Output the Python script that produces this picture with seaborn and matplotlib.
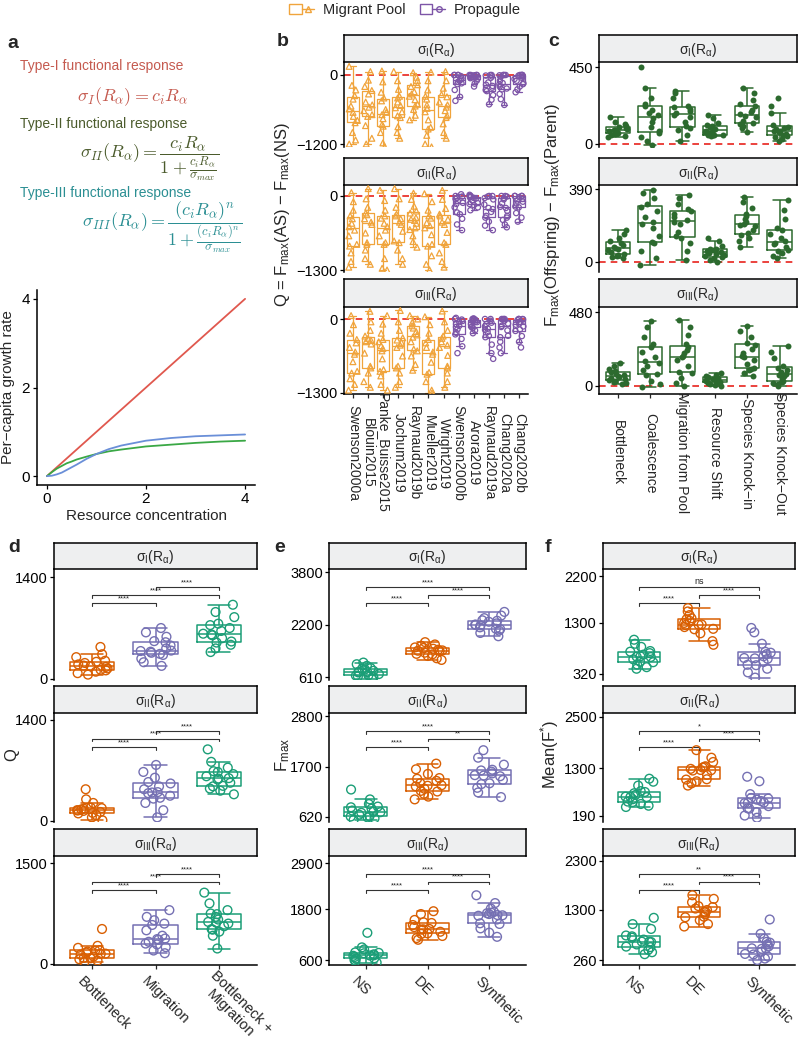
import numpy as np
import pandas as pd
import matplotlib
matplotlib.use("Agg")
import matplotlib.pyplot as plt
import matplotlib.transforms as mtransforms
from matplotlib.patches import Rectangle
from matplotlib.lines import Line2D
from matplotlib.legend_handler import HandlerTuple
import seaborn as sns

sns.set_style("white")
plt.rcParams["font.family"] = ["Liberation Sans", "DejaVu Sans"]
plt.rcParams["mathtext.fontset"] = "custom"
plt.rcParams["mathtext.rm"] = "Liberation Sans"
plt.rcParams["mathtext.it"] = "Liberation Sans:italic"
plt.rcParams["mathtext.bf"] = "Liberation Sans:bold"
np.random.seed(7)  # only for the jitter of the points

# -----------------------------------
# data
# -----------------------------------
# a: functional responses
resource = [0, 0.1, 0.2, 0.3, 0.4, 0.5, 0.6, 0.8, 1, 1.25, 1.5, 2, 2.5, 3, 3.5, 4]
growth_type1 = [0, 0.1, 0.2, 0.3, 0.4, 0.5, 0.6, 0.8, 1, 1.25, 1.5, 2, 2.5, 3, 3.5, 4]
growth_type2 = [0, 0.09, 0.17, 0.23, 0.29, 0.33, 0.375, 0.44, 0.5, 0.56, 0.6, 0.67, 0.71, 0.75, 0.78, 0.8]
growth_type3 = [0, 0.01, 0.04, 0.08, 0.14, 0.2, 0.26, 0.39, 0.5, 0.61, 0.69, 0.8, 0.86, 0.9, 0.92, 0.94]

# b: Q per study
studies = ["Swenson2000a", "Blouin2015", "Panke_Buisse2015", "Jochum2019",
           "Raynaud2019b", "Mueller2019", "Wright2019", "Swenson2000b",
           "Arora2019", "Raynaud2019a", "Chang2020a", "Chang2020b"]
study_pool = ["Migrant Pool"] * 7 + ["Propagule"] * 5

b_q_sigma1 = [
    [-1200, -1130, -1000, -830, -790, -720, -650, -590, -540, -420, -360, -260, -180, 150],
    [-1200, -1100, -880, -720, -690, -620, -560, -520, -470, -330, -270, -200, -90, 60],
    [-1250, -1180, -1000, -890, -860, -760, -690, -650, -600, -450, -400, -300, -120, 70],
    [-1100, -1000, -900, -740, -710, -640, -570, -530, -470, -400, -370, -250, -100, 60],
    [-780, -700, -600, -540, -510, -430, -370, -330, -290, -200, -170, -100, -40, 40],
    [-1250, -1200, -1050, -940, -910, -780, -640, -580, -520, -420, -370, -260, -100, 50],
    [-1100, -1000, -850, -740, -710, -620, -560, -520, -470, -380, -340, -230, -100, 60],
    [-450, -380, -260, -160, -145, -120, -100, -80, -60, -20, 0, 0, 0, 0],
    [-200, -150, -100, -65, -55, -40, -25, -15, -10, -5, 0, 0, 0, 0],
    [-510, -430, -350, -280, -260, -220, -190, -170, -130, -50, -25, -10, 0, 0],
    [-520, -420, -330, -250, -235, -200, -160, -140, -100, -30, -5, 0, 0, 0],
    [-300, -250, -200, -160, -145, -100, -70, -50, -30, -10, 0, 0, 0, 0],
]
b_q_sigma2 = [
    [-1250, -1150, -1000, -880, -850, -700, -600, -540, -480, -400, -350, -250, -100, 60],
    [-1200, -1100, -950, -850, -820, -650, -500, -460, -400, -330, -300, -200, -50, 130],
    [-1300, -1270, -1100, -850, -820, -700, -600, -540, -480, -390, -350, -250, -80, 100],
    [-1200, -1100, -950, -820, -790, -620, -500, -460, -400, -350, -320, -200, -50, 130],
    [-900, -800, -700, -590, -560, -480, -430, -410, -380, -300, -265, -180, -60, 50],
    [-1300, -1200, -1050, -880, -850, -680, -560, -520, -470, -390, -350, -250, -100, 40],
    [-1250, -1150, -1000, -850, -820, -640, -500, -460, -410, -350, -320, -220, -60, 100],
    [-600, -500, -400, -320, -290, -200, -140, -120, -90, -50, -35, -10, 0, 30],
    [-250, -200, -160, -140, -125, -80, -45, -35, -25, -15, -8, 0, 0, 20],
    [-600, -520, -450, -380, -350, -280, -230, -210, -150, -60, -35, -10, 0, 0],
    [-550, -500, -420, -380, -350, -260, -210, -190, -130, -60, -35, -10, 0, 0],
    [-450, -380, -300, -200, -185, -130, -100, -80, -50, -20, 0, 0, 0, 0],
]
b_q_sigma3 = [
    [-1250, -1150, -1050, -950, -920, -750, -620, -580, -500, -420, -360, -250, -100, 60],
    [-1200, -1100, -950, -860, -830, -600, -440, -400, -370, -340, -300, -200, -50, 135],
    [-1250, -1150, -1000, -920, -890, -700, -560, -520, -470, -400, -360, -250, -90, 60],
    [-1200, -1100, -950, -860, -830, -650, -500, -460, -410, -370, -330, -200, -50, 150],
    [-900, -800, -650, -560, -530, -400, -320, -280, -220, -160, -120, -60, 0, 60],
    [-1300, -1250, -1100, -970, -940, -760, -620, -580, -500, -420, -360, -250, -100, 40],
    [-1200, -1100, -950, -860, -830, -640, -500, -460, -400, -340, -300, -200, -50, 140],
    [-600, -480, -350, -270, -245, -180, -140, -120, -90, -55, -35, -10, 0, 20],
    [-250, -200, -160, -140, -125, -90, -55, -45, -30, -15, -8, 0, 0, 10],
    [-700, -600, -450, -320, -295, -230, -190, -170, -130, -90, -65, -30, 0, 0],
    [-600, -500, -400, -320, -295, -200, -140, -120, -80, -30, -8, 0, 0, 0],
    [-500, -400, -300, -210, -185, -130, -100, -80, -50, -20, -8, 0, 0, 0],
]

# c: Fmax(Offspring) - Fmax(Parent)
events = ["Bottleneck", "Coalescence", "Migration from Pool", "Resource Shift",
          "Species Knock\u2212in", "Species Knock\u2212Out"]
c_diff_sigma1 = [
    [40, 48, 55, 60, 63, 68, 75, 80, 82, 86, 92, 98, 104, 115, 130, 155],
    [-5, 20, 40, 65, 75, 100, 130, 150, 168, 180, 200, 220, 232, 270, 330, 450],
    [15, 50, 80, 95, 103, 130, 160, 172, 184, 195, 205, 214, 225, 270, 300, 310],
    [45, 50, 52, 52, 53, 62, 72, 78, 84, 90, 98, 104, 108, 120, 150, 170],
    [70, 95, 105, 115, 122, 135, 155, 165, 173, 185, 200, 222, 232, 260, 300, 330],
    [20, 30, 40, 48, 54, 60, 68, 74, 78, 85, 95, 102, 110, 180, 220, 270],
]
c_diff_sigma2 = [
    [20, 25, 30, 36, 40, 50, 62, 70, 74, 80, 90, 102, 110, 130, 150, 170],
    [-20, 20, 60, 100, 108, 140, 180, 200, 212, 240, 270, 295, 310, 340, 370, 384],
    [10, 60, 100, 128, 136, 160, 200, 212, 222, 240, 255, 270, 285, 310, 340, 360],
    [0, 10, 18, 25, 29, 35, 44, 48, 52, 56, 62, 66, 70, 85, 110, 130],
    [80, 110, 130, 145, 152, 170, 190, 198, 202, 215, 230, 248, 255, 290, 320, 350],
    [20, 30, 45, 58, 62, 80, 95, 102, 110, 130, 150, 170, 180, 230, 280, 330],
]
c_diff_sigma3 = [
    [10, 15, 22, 30, 35, 42, 52, 58, 64, 70, 78, 86, 94, 110, 130, 150],
    [-10, 10, 30, 70, 76, 100, 130, 150, 160, 190, 220, 250, 270, 320, 380, 420],
    [0, 20, 50, 82, 90, 130, 170, 185, 193, 210, 230, 252, 275, 330, 380, 430],
    [0, 5, 12, 18, 21, 25, 30, 33, 35, 40, 46, 52, 58, 65, 72, 80],
    [60, 80, 100, 110, 117, 140, 170, 185, 193, 210, 240, 265, 280, 320, 360, 390],
    [0, 10, 18, 24, 28, 45, 65, 72, 76, 90, 105, 118, 130, 180, 220, 260],
]

# d: Q per treatment
treatments = ["Bottleneck", "Migration", "Bottleneck +\nMigration"]
d_q_sigma1 = [
    [60, 80, 100, 118, 126, 145, 165, 176, 184, 200, 220, 236, 250, 300, 340, 440],
    [180, 230, 280, 330, 345, 360, 375, 384, 390, 420, 460, 505, 520, 580, 640, 700],
    [370, 420, 470, 500, 515, 560, 600, 612, 622, 660, 700, 740, 760, 850, 920, 1020],
]
d_q_sigma2 = [
    [10, 50, 80, 105, 113, 125, 140, 146, 150, 160, 170, 178, 185, 250, 300, 440],
    [50, 150, 250, 310, 322, 350, 385, 395, 400, 440, 480, 520, 540, 600, 680, 777],
    [370, 420, 450, 480, 487, 530, 575, 588, 594, 620, 650, 680, 690, 740, 820, 993],
]
d_q_sigma3 = [
    [30, 50, 70, 85, 90, 110, 140, 150, 154, 170, 185, 200, 206, 240, 270, 520],
    [160, 200, 250, 290, 303, 330, 360, 370, 378, 420, 500, 580, 600, 650, 700, 800],
    [230, 420, 480, 510, 518, 560, 600, 615, 625, 660, 700, 740, 750, 800, 900, 1060],
]

# e: Fmax, f: Mean(F*) per community type
communities = ["NS", "DE", "Synthetic"]
e_fmax_sigma1 = [
    [560, 600, 630, 655, 664, 700, 750, 762, 772, 800, 840, 865, 880, 950, 1000, 1050],
    [1130, 1180, 1250, 1300, 1315, 1350, 1400, 1410, 1420, 1440, 1470, 1495, 1510, 1560, 1600, 1670],
    [1850, 1950, 2020, 2065, 2077, 2120, 2180, 2195, 2205, 2240, 2290, 2320, 2335, 2400, 2480, 2590],
]
e_fmax_sigma2 = [
    [560, 590, 610, 630, 636, 670, 710, 724, 732, 760, 800, 830, 845, 900, 1000, 1213],
    [1000, 1060, 1120, 1170, 1183, 1230, 1280, 1295, 1305, 1350, 1400, 1445, 1460, 1550, 1650, 1772],
    [1050, 1150, 1250, 1330, 1347, 1420, 1500, 1515, 1523, 1560, 1600, 1625, 1640, 1750, 1900, 2062],
]
e_fmax_sigma3 = [
    [540, 570, 600, 632, 641, 670, 700, 707, 713, 735, 760, 770, 780, 850, 900, 1245],
    [1080, 1120, 1170, 1220, 1233, 1270, 1320, 1328, 1336, 1380, 1430, 1478, 1495, 1550, 1690, 1757],
    [1150, 1250, 1350, 1455, 1470, 1560, 1650, 1660, 1666, 1690, 1710, 1722, 1740, 1820, 1950, 2135],
]
f_mean_sigma1 = [
    [420, 450, 500, 545, 555, 600, 645, 652, 658, 690, 720, 748, 760, 840, 900, 977],
    [880, 950, 1100, 1178, 1186, 1220, 1260, 1265, 1271, 1300, 1340, 1372, 1390, 1450, 1520, 1584],
    [250, 350, 420, 488, 496, 550, 610, 620, 626, 660, 700, 728, 745, 900, 1119, 1203],
]
f_mean_sigma2 = [
    [400, 430, 470, 515, 526, 580, 630, 636, 642, 680, 720, 750, 770, 900, 990, 1060],
    [900, 950, 1000, 1040, 1047, 1150, 1250, 1258, 1264, 1290, 1320, 1335, 1350, 1450, 1550, 1726],
    [150, 200, 280, 360, 370, 420, 490, 497, 503, 540, 570, 598, 610, 700, 1000, 1106],
]
f_mean_sigma3 = [
    [380, 420, 470, 525, 536, 580, 630, 634, 638, 680, 720, 748, 765, 900, 1000, 1129],
    [950, 1000, 1080, 1140, 1152, 1200, 1245, 1250, 1254, 1290, 1320, 1350, 1370, 1450, 1520, 1594],
    [260, 290, 330, 375, 385, 430, 490, 497, 501, 540, 580, 618, 635, 700, 800, 1095],
]

# significance labels (brackets: d = 1-2, 1-3, 2-3 ; e/f = 1-2, 2-3, 1-3)
d_signif = [["****", "****", "****"]] * 3
e_signif = [["****", "****", "****"], ["****", "**", "****"], ["****", "****", "****"]]
f_signif = [["****", "****", "ns"], ["****", "****", "*"], ["****", "****", "**"]]

# axis ticks / limits per facet
b_yticks = [[-1200, 0], [-1300, 0], [-1300, 0]]
b_ylims = [(-1252, 226), (-1335, 193), (-1318, 211)]
c_yticks = [[0, 450], [0, 390], [0, 480]]
c_ylims = [(-18, 480), (-55, 412), (-55, 514)]
d_yticks = [[0, 1400], [0, 1400], [0, 1500]]
d_ylims = [(-14, 1511), (-14, 1497), (-15, 1604)]
e_yticks = [[610, 2200, 3800], [620, 1700, 2800], [600, 1800, 2900]]
e_ylims = [(520, 3894), (512, 2865), (482, 3066)]
f_yticks = [[320, 1300, 2200], [190, 1300, 2500], [260, 1300, 2300]]
f_ylims = [(204, 2335), (50, 2593), (157, 2403)]

sigma_titles = [r"$\mathregular{\sigma_{I}(R_{\alpha})}$",
                r"$\mathregular{\sigma_{II}(R_{\alpha})}$",
                r"$\mathregular{\sigma_{III}(R_{\alpha})}$"]

pool_colors = {"Migrant Pool": "#f0a43c", "Propagule": "#7d55a7"}
c_green = "#2c6a2e"
d_colors = {"Bottleneck": "#d95f02", "Migration": "#7570b3", "Bottleneck +\nMigration": "#1b9e77"}
ef_colors = {"NS": "#1b9e77", "DE": "#d95f02", "Synthetic": "#7570b3"}

# -----------------------------------
# helpers
# -----------------------------------
W, H = 800, 1047
fig = plt.figure(figsize=(W / 100, H / 100), dpi=100)


def rect(x0, y0, x1, y1):
    return [x0 / W, 1 - y1 / H, (x1 - x0) / W, (y1 - y0) / H]


def long_frame(cats, lists):
    rows = [(c, v) for c, vals in zip(cats, lists) for v in vals]
    return pd.DataFrame(rows, columns=["group", "value"])


def add_facet(x0, x1, ys0, ys1, yp1, title, bottom):
    st = fig.add_axes(rect(x0, ys0, x1, ys1))
    st.set_facecolor("#eeeff0")
    st.set_xticks([])
    st.set_yticks([])
    for s in st.spines.values():
        s.set_visible(True)
        s.set_color("black")
        s.set_linewidth(1.1)
    st.text(0.5, 0.45, title, ha="center", va="center", fontsize=10)
    ax = fig.add_axes(rect(x0, ys1, x1, yp1))
    ax.set_facecolor("none")
    ax.spines["top"].set_visible(False)
    ax.spines["right"].set_visible(False)
    ax.spines["left"].set_color("black")
    ax.spines["left"].set_linewidth(1.1)
    ax.spines["bottom"].set_visible(bottom)
    ax.spines["bottom"].set_color("black")
    ax.spines["bottom"].set_linewidth(1.1)
    return ax


def hollow(ax, n0, lw):
    for coll in ax.collections[n0:]:
        fc = coll.get_facecolors()
        coll.set_edgecolors(fc)
        coll.set_facecolors("none")
        coll.set_linewidth(lw)


def finish_axis(ax, xlim, ylim, yticks, bottom):
    ax.set_xlim(*xlim)
    ax.set_ylim(*ylim)
    ax.set_yticks(yticks)
    ax.set_xlabel("")
    ax.set_ylabel("")
    ax.tick_params(axis="y", length=3, width=0.9, labelsize=10.5, pad=1.5,
                   left=True, colors="black")
    ax.tick_params(axis="x", length=3 if bottom else 0, width=0.9, bottom=bottom,
                   labelbottom=False)


def add_brackets(ax, pairs, labels):
    trans = ax.get_xaxis_transform()
    levels = [0.69, 0.765, 0.835]
    for (i, j), lab, lev in zip(pairs, labels, levels):
        ax.plot([i, i, j, j], [lev - 0.025, lev, lev, lev - 0.025], transform=trans,
                color="#333333", lw=0.8, clip_on=False)
        ax.text((i + j) / 2, lev + 0.008, lab, transform=trans, ha="center",
                va="bottom", fontsize=6.5 if lab == "ns" else 5.5, color="#222222")


def shifted(ax, dx_px, dy_px):
    return ax.get_xaxis_transform() + mtransforms.ScaledTranslation(
        dx_px / 100, dy_px / 100, fig.dpi_scale_trans)


# -----------------------------------
# a. functional responses
# -----------------------------------
fig.text(7 / W, 1 - 43 / H, "a", fontsize=14, fontweight="bold", va="center")
fig.text(20 / W, 1 - 66 / H, "Type-I functional response", color="#c55a4f", fontsize=10, va="center")
fig.text(132 / W, 1 - 97 / H, r"$\sigma_{I}(R_{\alpha}) = c_{i}R_{\alpha}$",
         color="#c55a4f", fontsize=13, ha="center", va="center", math_fontfamily="cm")
fig.text(20 / W, 1 - 124 / H, "Type-II functional response", color="#4b5b2c", fontsize=10, va="center")
fig.text(150 / W, 1 - 159 / H,
         r"$\sigma_{II}(R_{\alpha}) = \dfrac{c_{i}R_{\alpha}}{1+\frac{c_{i}R_{\alpha}}{\sigma_{max}}}$",
         color="#4b5b2c", fontsize=13, ha="center", va="center", math_fontfamily="cm")
fig.text(20 / W, 1 - 193 / H, "Type-III functional response", color="#2b8f93", fontsize=10, va="center")
fig.text(162 / W, 1 - 227 / H,
         r"$\sigma_{III}(R_{\alpha}) = \dfrac{(c_{i}R_{\alpha})^{n}}{1+\frac{(c_{i}R_{\alpha})^{n}}{\sigma_{max}}}$",
         color="#2b8f93", fontsize=13, ha="center", va="center", math_fontfamily="cm")

ax_a = fig.add_axes(rect(37, 290, 255, 485))
sns.lineplot(x=resource, y=growth_type1, color="#e0584e", lw=1.3, ax=ax_a)
sns.lineplot(x=resource, y=growth_type2, color="#3aa845", lw=1.3, ax=ax_a)
sns.lineplot(x=resource, y=growth_type3, color="#6a8fd8", lw=1.3, ax=ax_a)
ax_a.set_xlim(-0.2, 4.2)
ax_a.set_ylim(-0.2, 4.2)
ax_a.set_xticks([0, 2, 4])
ax_a.set_yticks([0, 2, 4])
for s in ["top", "right"]:
    ax_a.spines[s].set_visible(False)
for s in ["left", "bottom"]:
    ax_a.spines[s].set_color("black")
    ax_a.spines[s].set_linewidth(1.1)
ax_a.tick_params(length=3, width=0.9, labelsize=11, pad=2, colors="black",
                 left=True, bottom=True)
fig.text(8 / W, 1 - 387 / H, "Per\u2212capita growth rate", rotation=90,
         ha="center", va="center", fontsize=11)
fig.text(146 / W, 1 - 516 / H, "Resource concentration", ha="center",
         va="center", fontsize=11)

# -----------------------------------
# b. Q per study
# -----------------------------------
fig.text(277 / W, 1 - 42 / H, "b", fontsize=14, fontweight="bold", va="center")
top_rows = [(35, 62, 147), (158, 185, 272), (279, 307, 394)]
b_data = [b_q_sigma1, b_q_sigma2, b_q_sigma3]
pool_of = dict(zip(studies, study_pool))
for k in range(3):
    bottom = k == 2
    ax = add_facet(344, 528, *top_rows[k], sigma_titles[k], bottom)
    df = long_frame(studies, b_data[k])
    df["pool"] = df["group"].map(pool_of)
    ax.axhline(0, color="#e8231d", ls=(0, (4, 3)), lw=1.2, zorder=0)
    sns.boxplot(data=df, x="group", y="value", order=studies, hue="pool",
                palette=pool_colors, dodge=False, fill=False, showfliers=False,
                width=0.8, linewidth=0.9, legend=False, ax=ax)
    for pool, mk, sz in [("Migrant Pool", "^", 4.2), ("Propagule", "o", 3.8)]:
        n0 = len(ax.collections)
        sns.stripplot(data=df[df["pool"] == pool], x="group", y="value",
                      order=studies, color=pool_colors[pool], marker=mk, size=sz,
                      jitter=0.3, ax=ax)
        hollow(ax, n0, 0.9)
    finish_axis(ax, (-0.6, 11.6), b_ylims[k], b_yticks[k], bottom)
    if bottom:
        for i, name in enumerate(studies):
            ax.text(i, 0, name, transform=shifted(ax, 0, -59), rotation=270,
                    ha="center", va="center", fontsize=10)
fig.text(282 / W, 1 - 215 / H,
         r"Q = F$_{\mathregular{max}}$(AS) $\mathregular{-}$ F$_{\mathregular{max}}$(NS)",
         rotation=90, ha="center", va="center", fontsize=12)

# legend for b
h_mig = (Rectangle((0, 0), 1, 1, fc="none", ec=pool_colors["Migrant Pool"], lw=1),
         Line2D([], [], color=pool_colors["Migrant Pool"], marker="^", mfc="none", lw=1, ms=5))
h_pro = (Rectangle((0, 0), 1, 1, fc="none", ec=pool_colors["Propagule"], lw=1),
         Line2D([], [], color=pool_colors["Propagule"], marker="o", mfc="none", lw=1, ms=4))
fig.legend([h_mig, h_pro], ["Migrant Pool", "Propagule"], loc="center",
           bbox_to_anchor=(405 / W, 1 - 10 / H), ncol=2, frameon=False, fontsize=10.5,
           handler_map={tuple: HandlerTuple(ndivide=None, pad=0)},
           handlelength=1.7, columnspacing=1.0, handletextpad=0.6)

# -----------------------------------
# c. offspring vs parent
# -----------------------------------
fig.text(548 / W, 1 - 42 / H, "c", fontsize=14, fontweight="bold", va="center")
c_data = [c_diff_sigma1, c_diff_sigma2, c_diff_sigma3]
for k in range(3):
    bottom = k == 2
    ax = add_facet(599, 797, *top_rows[k], sigma_titles[k], bottom)
    df = long_frame(events, c_data[k])
    ax.axhline(0, color="#e8231d", ls=(0, (4, 3)), lw=1.2, zorder=0)
    sns.boxplot(data=df, x="group", y="value", order=events, color=c_green,
                fill=False, showfliers=False, width=0.75, linewidth=1.1, ax=ax)
    sns.stripplot(data=df, x="group", y="value", order=events, color=c_green,
                  size=4.3, jitter=0.3, linewidth=0, ax=ax)
    finish_axis(ax, (-0.58, 5.54), c_ylims[k], c_yticks[k], bottom)
    if bottom:
        for i, name in enumerate(events):
            ax.text(i, 0, name, transform=shifted(ax, 0, -59), rotation=270,
                    ha="center", va="center", fontsize=10)
fig.text(553 / W, 1 - 215 / H,
         r"F$_{\mathregular{max}}$(Offspring) $\mathregular{-}$ F$_{\mathregular{max}}$(Parent)",
         rotation=90, ha="center", va="center", fontsize=12)

# -----------------------------------
# d, e, f
# -----------------------------------
bottom_rows = [(543, 569, 680), (686, 713, 822), (829, 856, 965)]
panels = [
    ("d", 8, 54, 257, treatments, d_colors, [d_q_sigma1, d_q_sigma2, d_q_sigma3],
     d_ylims, d_yticks, [(0, 1), (0, 2), (1, 2)], d_signif, "Q", 12),
    ("e", 274, 329, 526, communities, ef_colors, [e_fmax_sigma1, e_fmax_sigma2, e_fmax_sigma3],
     e_ylims, e_yticks, [(0, 1), (1, 2), (0, 2)], e_signif, r"F$_{\mathregular{max}}$", 283),
    ("f", 545, 603, 795, communities, ef_colors, [f_mean_sigma1, f_mean_sigma2, f_mean_sigma3],
     f_ylims, f_yticks, [(0, 1), (1, 2), (0, 2)], f_signif, r"Mean(F$^{*}$)", 550),
]
for letter, lx, x0, x1, cats, pal, datas, ylims, yticks, pairs, signif, ylab, ylx in panels:
    fig.text(lx / W, 1 - 548 / H, letter, fontsize=14, fontweight="bold", va="center")
    for k in range(3):
        bottom = k == 2
        ax = add_facet(x0, x1, *bottom_rows[k], sigma_titles[k], bottom)
        df = long_frame(cats, datas[k])
        sns.boxplot(data=df, x="group", y="value", order=cats, hue="group",
                    hue_order=cats, palette=pal, fill=False, showfliers=False,
                    width=0.7, linewidth=1.1, legend=False, ax=ax)
        n0 = len(ax.collections)
        sns.stripplot(data=df, x="group", y="value", order=cats, hue="group",
                      hue_order=cats, palette=pal, size=6.3, jitter=0.25,
                      legend=False, ax=ax)
        hollow(ax, n0, 1.0)
        finish_axis(ax, (-0.6, 2.6), ylims[k], yticks[k], bottom)
        add_brackets(ax, pairs, signif[k])
        if bottom:
            for i, name in enumerate(cats):
                ax.text(i, 0, name, transform=shifted(ax, -12, -14), rotation=-45,
                        rotation_mode="anchor", ha="left", va="center",
                        multialignment="center", fontsize=10.5)
    fig.text(ylx / W, 1 - 755 / H, ylab, rotation=90, ha="center", va="center", fontsize=12)

fig.savefig("out.png", dpi=100)
print("DONE")
